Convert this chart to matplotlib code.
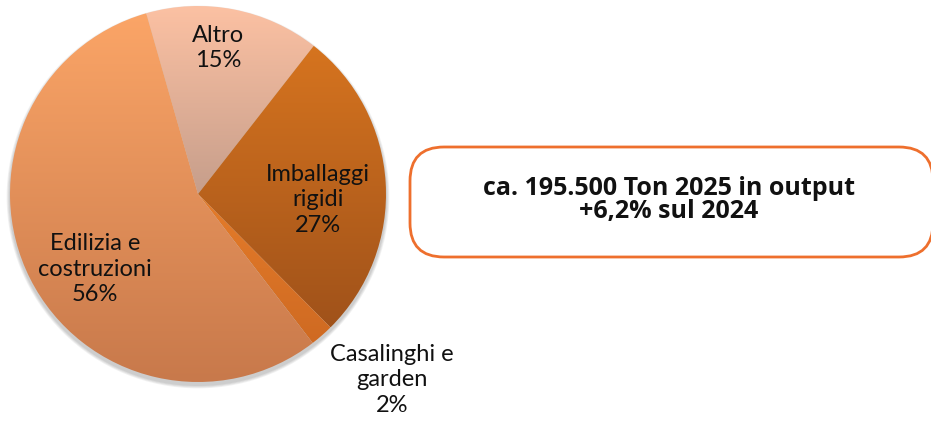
import numpy as np
import matplotlib.pyplot as plt
from matplotlib.patches import Circle, FancyBboxPatch
from matplotlib.colors import LinearSegmentedColormap

# Data
labels = ["Altro", "Imballaggi\nrigidi", "Casalinghi e\ngarden", "Edilizia e\ncostruzioni"]
shares = [15, 27, 2, 56]
top_colors = ["#FCC1A3", "#D6741F", "#E57C2A", "#FBA567"]
bottom_colors = ["#C69E8B", "#A0521A", "#CF6A22", "#C8794B"]
label_pos = [(218, 48), (318, 200), (392, 380), (95, 269)]  # pixel coords (top-down)
box_lines = ["ca. 195.500 Ton 2025 in output", "+6,2% sul 2024"]

W, H = 931, 422
cx, cy, R = 198, H - 194, 188

fig = plt.figure(figsize=(W / 100, H / 100), dpi=100)
ax = fig.add_axes([0, 0, 1, 1])

# soft shadow under the pie
for i in range(4):
    ax.add_patch(Circle((cx, cy - 3), R + 1 + i * 0.8, color="#000000", alpha=0.05, lw=0, zorder=0))

wedges, _ = ax.pie(shares, center=(cx, cy), radius=R, startangle=106, counterclock=False,
                   wedgeprops=dict(linewidth=0), colors=top_colors)

grad = np.linspace(0, 1, 256).reshape(-1, 1)
for w, c0, c1 in zip(wedges, top_colors, bottom_colors):
    t = np.radians(np.linspace(w.theta1, w.theta2, 200))
    ys = np.concatenate([cy + w.r * np.sin(t), [cy]])
    xs = np.concatenate([cx + w.r * np.cos(t), [cx]])
    cmap = LinearSegmentedColormap.from_list("g", [c0, c1])
    im = ax.imshow(grad, cmap=cmap, extent=[xs.min(), xs.max(), ys.min(), ys.max()],
                   origin="upper", aspect="auto", zorder=1)
    im.set_clip_path(w)
    w.set_facecolor("none")

for lab, s, (x, y) in zip(labels, shares, label_pos):
    ax.text(x, H - y, f"{lab}\n{s}%", ha="center", va="center", fontsize=17,
            family="Lato", color="#111111", linespacing=1.28, zorder=3)

# callout box
box = FancyBboxPatch((410, H - 257), 523, 110, boxstyle="round,pad=0,rounding_size=34",
                     facecolor="white", edgecolor="#EE6F2D", linewidth=2, zorder=2)
ax.add_patch(box)
ax.text(669, H - 200, "\n".join(box_lines), ha="center", va="center", fontsize=18,
        family="Open Sans", weight="bold", color="#111111", linespacing=0.94, zorder=3)

ax.set_xlim(0, W)
ax.set_ylim(0, H)
ax.set_aspect("auto")
ax.axis("off")

plt.savefig("out.png", dpi=100)
